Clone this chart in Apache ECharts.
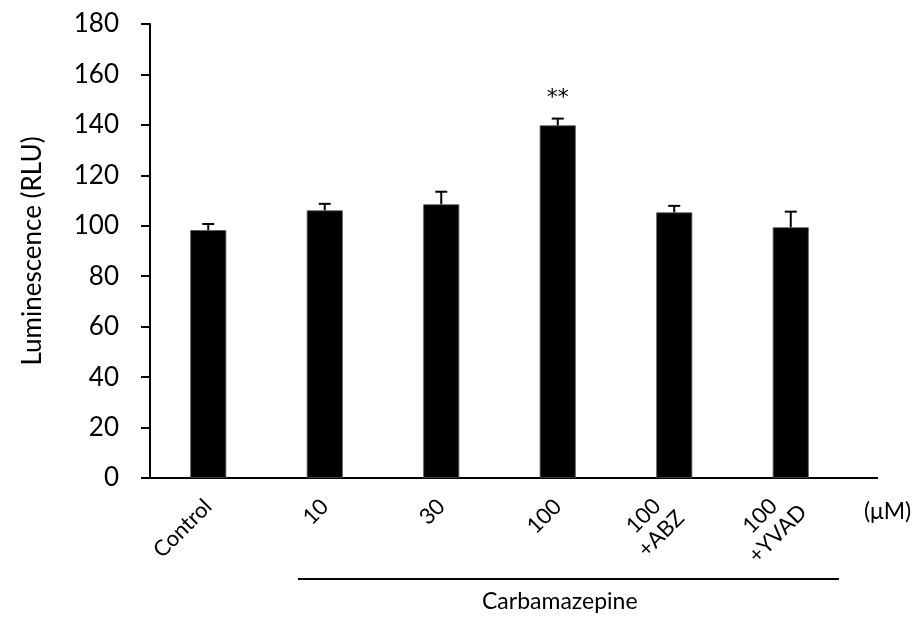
<!DOCTYPE html>
<html>
<head>
<meta charset="utf-8">
<script src="https://cdn.jsdelivr.net/npm/echarts@6/dist/echarts.min.js"></script>
<style>
html,body{margin:0;padding:0;background:#fff;}
#chart{width:920px;height:621px;}
</style>
</head>
<body>
<div id="chart"></div>
<script>
const categories = ['Control', '10', '30', '100', '100\n+ABZ', '100\n+YVAD'];
const values = [98.3, 106.1, 108.5, 139.8, 105.3, 99.4];
const errors = [2.4, 2.6, 5.0, 2.7, 2.6, 6.2];
const significance = ['', '', '', '**', '', ''];
const yTicks = { min: 0, max: 180, interval: 20 };

const FONT = 'Lato';
const chart = echarts.init(document.getElementById('chart'), null, { renderer: 'canvas' });

function labelFormatter(v) {
  if (v.indexOf('\n') >= 0) {
    const parts = v.split('\n');
    return parts.map(p => '{c|' + p + '}').join('\n');
  }
  return '{s|' + v + '}';
}

const option = {
  backgroundColor: '#ffffff',
  animation: false,
  grid: { left: 150, right: 71, top: 24, bottom: 143 },
  xAxis: {
    type: 'category',
    data: categories,
    axisLine: { lineStyle: { color: '#000', width: 2 } },
    axisTick: { show: false },
    axisLabel: {
      rotate: 45,
      margin: 25,
      color: '#000',
      fontFamily: FONT,
      fontSize: 22,
      interval: 0,
      formatter: labelFormatter,
      rich: {
        s: { fontFamily: FONT, fontSize: 22, color: '#000' },
        c: { width: 62, align: 'center', fontFamily: FONT, fontSize: 22, color: '#000', lineHeight: 25 }
      }
    }
  },
  yAxis: {
    type: 'value',
    min: yTicks.min,
    max: yTicks.max,
    interval: yTicks.interval,
    name: 'Luminescence (RLU)',
    nameLocation: 'middle',
    nameGap: 104,
    nameTextStyle: { color: '#000', fontFamily: FONT, fontSize: 26 },
    axisLine: { show: true, lineStyle: { color: '#000', width: 2 } },
    axisTick: { show: true, length: 9, lineStyle: { color: '#000', width: 2 } },
    splitLine: { show: false },
    axisLabel: { color: '#000', fontFamily: FONT, fontSize: 26, margin: 31 }
  },
  series: [
    {
      type: 'bar',
      data: values,
      barWidth: 36,
      itemStyle: { color: '#000', borderColor: '#555', borderWidth: 0.8 }
    },
    {
      type: 'custom',
      z: 5,
      data: categories.map((c, i) => [i, values[i], errors[i]]),
      renderItem: function (params, api) {
        const i = api.value(0);
        const m = api.value(1);
        const e = api.value(2);
        const base = api.coord([i, m]);
        const top = api.coord([i, m + e]);
        const half = 6;
        const style = { stroke: '#000', lineWidth: 2 };
        const children = [
          { type: 'line', shape: { x1: base[0], y1: base[1], x2: top[0], y2: top[1] }, style: style },
          { type: 'line', shape: { x1: top[0] - half, y1: top[1], x2: top[0] + half, y2: top[1] }, style: style }
        ];
        const sig = significance[params.dataIndex];
        if (sig) {
          children.push({
            type: 'text',
            style: {
              text: sig, x: top[0], y: top[1] - 20,
              textAlign: 'center', textVerticalAlign: 'middle',
              fill: '#000', font: '22px "DejaVu Sans"'
            }
          });
        }
        return { type: 'group', children: children };
      }
    }
  ],
  graphic: [
    { type: 'line', shape: { x1: 848, y1: 478, x2: 878, y2: 478 }, style: { stroke: '#000', lineWidth: 2 } },
    { type: 'line', shape: { x1: 298, y1: 579, x2: 839, y2: 579 }, style: { stroke: '#000', lineWidth: 2 } },
    { type: 'text', left: 482, top: 590, style: { text: 'Carbamazepine', fill: '#000', font: '23px ' + FONT } },
    { type: 'text', left: 864, top: 500, style: { text: '(\u03bcM)', fill: '#000', font: '23px ' + FONT } }
  ]
};
chart.setOption(option);
</script>
</body>
</html>
